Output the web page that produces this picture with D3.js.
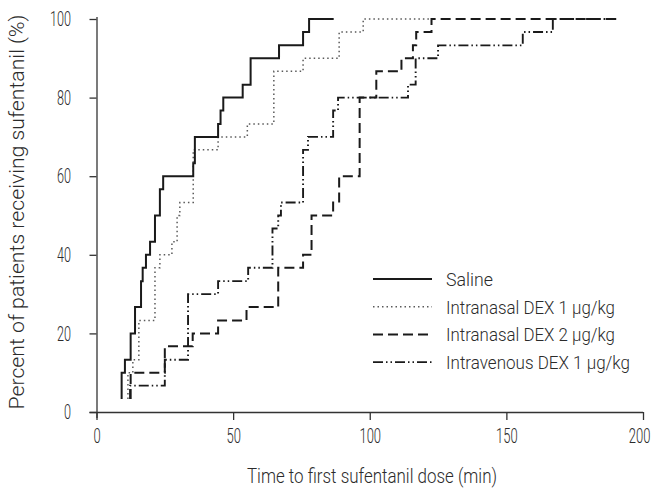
<!DOCTYPE html>
<html>
<head>
<meta charset="utf-8">
<script src="https://cdn.jsdelivr.net/npm/d3@7"></script>
<style>
  html, body { margin: 0; padding: 0; background: #fff; }
  svg { display: block; }
  text { font-family: "Roboto", "Liberation Sans", sans-serif; font-weight: 300; fill: #2b2b2b; }
</style>
</head>
<body>
<svg id="chart" width="653" height="489"></svg>
<script>
// ---- data (time in min, cumulative percent) ----
const salineTime = [9.2, 9.2, 10.4, 12.5, 14.1, 16.3, 16.9, 18.1, 19.6, 21.4, 23.2, 24.4, 35.4, 36.0, 44.5, 45.4, 46.4, 53.5, 56.4, 66.8, 75.6, 77.8, 86.8];
const salinePct  = [3.3, 10, 13.3, 20, 26.7, 33.3, 36.7, 40, 43.3, 50, 56.7, 60, 63.3, 70, 73.3, 76.7, 80, 83.3, 90, 93.3, 96.7, 100, 100];

const in1Time = [11.5, 11.5, 13.3, 15.5, 21.4, 23.2, 27.6, 29.5, 30.5, 35.4, 44.5, 55.2, 64.9, 75.6, 88.8, 97.6, 122.3];
const in1Pct  = [3.3, 10, 13.3, 23.3, 36.7, 40, 43.3, 50, 53.3, 66.7, 70, 73.3, 86.7, 90, 96.7, 100, 100];

const in2Time = [12.5, 12.5, 25.0, 35.2, 44.5, 54.9, 66.5, 75.6, 78.7, 86.6, 88.8, 96.3, 102.4, 111.6, 115.8, 117.0, 122.6, 190.2];
const in2Pct  = [3.3, 10, 16.7, 20, 23.3, 26.7, 36.7, 40, 50, 53.3, 60, 80, 86.7, 90, 93.3, 96.7, 100, 100];

const ivTime = [12.3, 12.3, 25.0, 33.5, 44.5, 55.5, 64.4, 66.5, 67.5, 75.6, 77.4, 86.6, 88.4, 114.0, 116.8, 125.0, 156.0, 167.0, 190.2];
const ivPct  = [3.3, 6.7, 13.3, 30, 33.3, 36.7, 46.7, 50, 53.3, 66.7, 70, 76.7, 80, 83.3, 90, 93.3, 96.7, 100, 100];

const seriesNames = ["Saline", "Intranasal DEX 1 \u03bcg/kg", "Intranasal DEX 2 \u03bcg/kg", "Intravenous DEX 1 \u03bcg/kg"];
const xTicks = [0, 50, 100, 150, 200];
const yTicks = [0, 20, 40, 60, 80, 100];
const xTitle = "Time to first sufentanil dose (min)";
const yTitle = "Percent of patients receiving sufentanil (%)";

// ---- styles ----
const styles = [
  { dash: null, width: 2, color: "#1a1a1a" },
  { dash: "1.5,3", width: 1.5, color: "#5a5a5a" },
  { dash: "10,5", width: 2, color: "#1a1a1a" },
  { dash: "10,3,1.5,3,1.5,3", width: 1.9, color: "#1a1a1a" }
];

const svg = d3.select("#chart");
const x = d3.scaleLinear().domain([0, 200]).range([96.5, 643]);
const y = d3.scaleLinear().domain([0, 100]).range([412, 19]);
const FONT = '"Roboto", "Liberation Sans", sans-serif';

function fitText(sel, widths) {
  sel.each(function(d, i) {
    const w = typeof widths === "function" ? widths(d, i) : widths;
    d3.select(this).attr("textLength", w).attr("lengthAdjust", "spacingAndGlyphs");
  });
}

// axes
const gx = svg.append("g").attr("transform", `translate(0,${y(0)})`)
  .call(d3.axisBottom(x).tickValues(xTicks).tickSize(8).tickPadding(8).tickSizeOuter(0));
const gy = svg.append("g").attr("transform", `translate(${x(0)},0)`)
  .call(d3.axisLeft(y).tickValues(yTicks).tickSize(7).tickPadding(18.5).tickSizeOuter(0));
[gx, gy].forEach(g => {
  g.selectAll("path, line").attr("stroke", "#333").attr("stroke-width", 1.3);
  g.selectAll("text").attr("font-size", 21).attr("fill", "#2b2b2b")
    .style("font-family", FONT).style("font-weight", 300);
});
gx.select(".domain").attr("d", `M${x(0) - 7},0.5H${x(200)}`);
gy.select(".domain").attr("d", `M0.5,${y(100) - 2}V${y(0) + 6}`);
fitText(gx.selectAll("text").filter(d => d !== 200), d => String(d).length * 7.2);
fitText(gy.selectAll("text"), d => String(d).length * 7);
// last label sits at the right edge: squeeze it with a transform instead
gx.selectAll("text").filter(d => d === 200)
  .attr("text-anchor", "end").attr("x", 7 / 0.62).attr("transform", "scale(0.62,1)");

// curves
const line = d3.line().x(d => x(d[0])).y(d => y(d[1])).curve(d3.curveStepAfter);
const series = [
  d3.zip(salineTime, salinePct),
  d3.zip(in1Time, in1Pct),
  d3.zip(in2Time, in2Pct),
  d3.zip(ivTime, ivPct)
];
const drawOrder = [1, 3, 2, 0];
drawOrder.forEach(i => {
  svg.append("path").datum(series[i])
    .attr("d", line)
    .attr("fill", "none")
    .attr("stroke", styles[i].color)
    .attr("stroke-width", styles[i].width)
    .attr("stroke-dasharray", styles[i].dash);
});

// legend
const legendWidths = [47, 169, 169, 184];
const leg = svg.append("g");
seriesNames.forEach((name, i) => {
  const cy = 279 + i * 27.7;
  leg.append("line").attr("x1", 373).attr("x2", 432).attr("y1", cy).attr("y2", cy)
    .attr("stroke", styles[i].color).attr("stroke-width", styles[i].width)
    .attr("stroke-dasharray", styles[i].dash);
  leg.append("text").attr("x", 446).attr("y", cy + 7).attr("font-size", 18.6)
    .attr("textLength", legendWidths[i]).attr("lengthAdjust", "spacingAndGlyphs")
    .text(name);
});

// titles
svg.append("text").attr("x", 372).attr("y", 483).attr("text-anchor", "middle")
  .attr("font-size", 20).attr("textLength", 250).attr("lengthAdjust", "spacingAndGlyphs")
  .text(xTitle);
svg.append("text").attr("transform", "translate(24,212) rotate(-90)").attr("text-anchor", "middle")
  .attr("font-size", 20).attr("textLength", 395).attr("lengthAdjust", "spacingAndGlyphs")
  .text(yTitle);
</script>
</body>
</html>
